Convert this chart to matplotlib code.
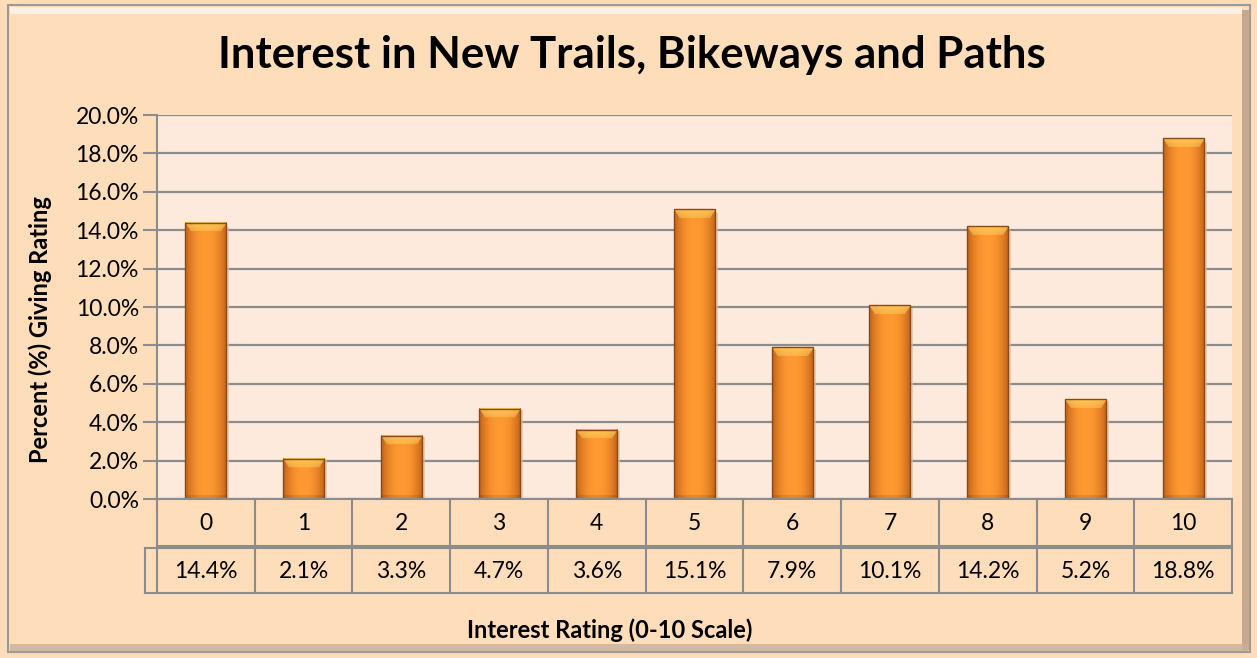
import numpy as np
import matplotlib
matplotlib.use("Agg")
import matplotlib.pyplot as plt
from matplotlib.patches import Rectangle
from matplotlib.lines import Line2D

categories = ["0", "1", "2", "3", "4", "5", "6", "7", "8", "9", "10"]
values = [14.4, 2.1, 3.3, 4.7, 3.6, 15.1, 7.9, 10.1, 14.2, 5.2, 18.8]
value_labels = ["14.4%", "2.1%", "3.3%", "4.7%", "3.6%", "15.1%", "7.9%", "10.1%", "14.2%", "5.2%", "18.8%"]
yticks = [0, 2, 4, 6, 8, 10, 12, 14, 16, 18, 20]

title = "Interest in New Trails, Bikeways and Paths"
ylabel = "Percent (%) Giving Rating"
xlabel = "Interest Rating (0-10 Scale)"

FONT = ["Lato", "DejaVu Sans"]
plt.rcParams["font.family"] = FONT

W, H = 1257, 658
fig = plt.figure(figsize=(W / 100, H / 100), dpi=100)
fig.patch.set_facecolor("#FDDDBA")

# outer frame with bevel shadow
fig.add_artist(Rectangle((8 / W, 1 - 652 / H), 1242 / W, 647 / H, transform=fig.transFigure,
                         facecolor="none", edgecolor="#9a9a9a", lw=1.5, zorder=0))
fig.add_artist(Rectangle((1242 / W, 1 - 650 / H), 8 / W, 640 / H, transform=fig.transFigure,
                         facecolor="#b89d85", edgecolor="none", zorder=0, alpha=0.8))
fig.add_artist(Rectangle((10 / W, 1 - 651 / H), 1238 / W, 7 / H, transform=fig.transFigure,
                         facecolor="#c9b09a", edgecolor="none", zorder=0, alpha=0.8))
fig.add_artist(Rectangle((10 / W, 1 - 14 / H), 1232 / W, 7 / H, transform=fig.transFigure,
                         facecolor="#FFF0DF", edgecolor="none", zorder=0))

left, right, top, bottom = 157, 1232, 115, 499
ax = fig.add_axes([left / W, 1 - bottom / H, (right - left) / W, (bottom - top) / H])
ax.set_facecolor("#FDEADC")
n = len(categories)
ax.set_xlim(-0.5, n - 0.5)
ax.set_ylim(0, 20)
ax.set_yticks(yticks)
ax.set_yticklabels([f"{t:.1f}%" for t in yticks], fontsize=16.5)
ax.tick_params(axis="y", length=10, width=1.5, color="#8c8c8c", pad=3)
ax.tick_params(axis="x", length=0, labelbottom=False)
ax.grid(axis="y", color="#8c8c8c", lw=1.6, zorder=1)
ax.set_axisbelow(True)
for s in ["top", "right", "bottom"]:
    ax.spines[s].set_visible(False)
ax.spines["left"].set_color("#8c8c8c")
ax.spines["left"].set_linewidth(1.5)

# bars with horizontal gradient
bw = 0.42
ax_h_px = bottom - top
px_per_unit = ax_h_px / 20.0
edge_c = np.array([0.76, 0.38, 0.10])
mid_c = np.array([1.0, 0.60, 0.19])
hi_c = np.array([1.0, 0.83, 0.38])
ncol = 60
xs = np.linspace(-1, 1, ncol)
prof = np.clip(1 - np.abs(xs) ** 2.2, 0, 1)
row = edge_c[None, :] * (1 - prof[:, None]) + mid_c[None, :] * prof[:, None]
for i, v in enumerate(values):
    hpx = max(int(round(v * px_per_unit)), 2)
    img = np.repeat(row[None, :, :], hpx, axis=0)
    bev = 9
    for r in range(min(bev, hpx)):
        inset = (r / bev) * 0.3
        mask = (xs > -1 + inset) & (xs < 1 - inset)
        a = 0.75 - 0.35 * r / bev
        img[r, mask] = img[r, mask] * (1 - a) + hi_c * a
    for r in range(max(hpx - 4, 0), hpx):
        img[r] = img[r] * 0.9
    x0, x1 = i - bw / 2, i + bw / 2
    ax.imshow(img, extent=[x0, x1, 0, v], aspect="auto", interpolation="bilinear", zorder=3)
    ax.add_patch(Rectangle((x0, 0), bw, v, facecolor="none", edgecolor="#8a4a15", lw=1.0, zorder=4))
    ax.add_patch(Rectangle((x1, 0), 0.03, v * 0.985, facecolor="#d8c0a8", edgecolor="none", zorder=2, alpha=0.7))
ax.set_xlim(-0.5, n - 0.5)
ax.set_ylim(0, 20)

# data table below the axes
gc = "#8c8c8c"
tlw = 1.5
tr = ax.transAxes
def L(x, y):
    ax.add_line(Line2D(x, y, transform=tr, color=gc, lw=tlw, clip_on=False, zorder=5))

f = lambda px: -px / ax_h_px  # pixel offset below axes bottom -> axes fraction
xl2 = (145 - left) / (right - left)
L([0, 1], [0, 0])
L([0, 1], [f(47), f(47)])
L([xl2, 1], [f(49), f(49)])
L([xl2, 1], [f(94), f(94)])
L([xl2, xl2], [f(49), f(94)])
for k in range(n + 1):
    xf = k / n
    L([xf, xf], [0, f(94)])
for i, (c, lab) in enumerate(zip(categories, value_labels)):
    xf = (i + 0.5) / n
    ax.text(xf, f(24), c, transform=tr, ha="center", va="center", fontsize=16.5)
    ax.text(xf, f(72), lab, transform=tr, ha="center", va="center", fontsize=16.5)

fig.text(632 / W, 1 - 55 / H, title, ha="center", va="center", fontsize=31.5, fontweight="bold")
fig.text(40 / W, 1 - 330 / H, ylabel, ha="center", va="center", rotation=90, fontsize=17, fontweight="bold")
fig.text(610 / W, 1 - 630 / H, xlabel, ha="center", va="center", fontsize=17, fontweight="bold")

fig.savefig("out.png", dpi=100, facecolor=fig.get_facecolor())
